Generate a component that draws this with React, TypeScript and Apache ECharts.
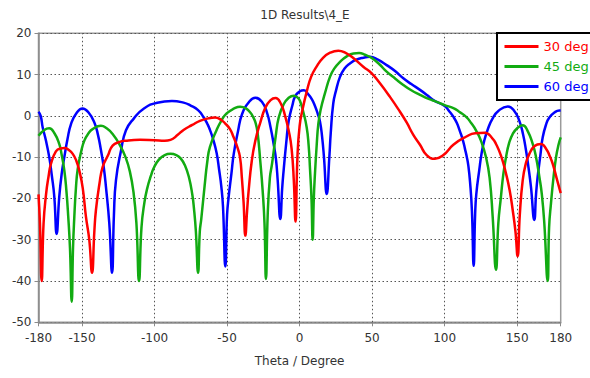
import React, { useEffect, useRef } from "react";
import * as echarts from "echarts";

const chartTitle = "1D Results\\4_E";
const xAxisName = "Theta / Degree";
const xTickValues = [-180, -150, -100, -50, 0, 50, 100, 150, 180];
const xGridValues = [-150, -100, -50, 0, 50, 100, 150];
const seriesNames = ["30 deg", "45 deg", "60 deg"];
const seriesColors = ["#ff0000", "#12ab12", "#0000ff"];

const deg30: [number, number][] = [
  [-180, -19], [-179, -26], [-177.8, -40], [-176.5, -26], [-174.8, -19], [-173, -14.5], [-171.4, -11.6],
  [-168, -8.6], [-165, -7.9], [-162, -7.8], [-159, -8.3], [-156.4, -9.2], [-154, -10.8], [-151.9, -13.2],
  [-149.5, -17.5], [-147.3, -24.4], [-145, -30], [-143.1, -38], [-141.5, -28], [-140.4, -22.8], [-138, -16.5],
  [-135.8, -12.4], [-132, -9.5], [-128.9, -7.2], [-124, -6.3], [-119.7, -6], [-110, -5.8], [-100, -5.9],
  [-93, -6], [-89, -5.8], [-84, -4.6], [-80, -3.4], [-74, -2.2], [-68.7, -1.2], [-63, -0.6], [-58.3, -0.4],
  [-54, -1], [-51.4, -1.8], [-48, -3.2], [-45.7, -5], [-43, -7.5], [-41.1, -10], [-39.8, -15], [-38.6, -21],
  [-37.4, -29], [-36.2, -23], [-35.1, -18], [-33, -11], [-30.5, -6], [-27, -1.5], [-23.6, 2], [-20, 3.8],
  [-16.6, 4.3], [-13, 3], [-10, 0], [-7.5, -3.6], [-5.5, -8], [-4, -15.6], [-2.8, -25.6], [-1.5, -10],
  [0, -2.5], [2, 1.5], [5, 6], [8, 9.5], [11.8, 12], [16, 14], [21, 15.3], [26.7, 15.8], [32, 15.2],
  [37, 14], [43.9, 11.9], [49.7, 10.3], [55.4, 7.9], [62.3, 4.6], [69.2, 1], [73.8, -1.6], [78.4, -4.6],
  [83, -7], [87.6, -9.5], [93.3, -10.4], [99.1, -9.5], [106, -7], [115, -5], [121, -4.2], [127.8, -4.1],
  [133, -5.5], [135.4, -6.8], [139, -9.8], [142.3, -14], [144.8, -18], [146.9, -22.8],
  [148.8, -28], [150.3, -34], [151.8, -24], [153.8, -15.6], [156, -11.5], [158.4, -9.2], [162, -7.3],
  [166.4, -6.8], [170, -8], [172.5, -9.8], [174.5, -11.6], [177.5, -15.5], [180, -18.7],
];

const deg45: [number, number][] = [
  [-180, -4.8], [-176, -3.4], [-172.6, -3], [-169, -4.2], [-165.7, -6.8], [-164, -9.5], [-162.2, -13.2],
  [-160.8, -18], [-159.5, -24.4], [-158.3, -32], [-157.1, -45], [-156.2, -32], [-155.3, -24.4],
  [-154.2, -17.5], [-153, -13], [-150.5, -8.5], [-148.4, -6], [-145.5, -4.2], [-142.7, -3.2], [-137, -2.4],
  [-133, -3], [-128.9, -4.4], [-124, -7], [-120, -10], [-117, -13.5], [-114.5, -18.5], [-112.5, -26],
  [-110.7, -40], [-109, -27], [-107, -21], [-105, -17.5], [-102.5, -14.5], [-100.4, -12.5], [-97, -10.6],
  [-93, -9.5], [-89, -9.2], [-85, -9.5], [-82, -10.3], [-79, -12], [-76.2, -15], [-74, -19], [-72.8, -22.5],
  [-71.5, -28], [-70, -38], [-68.8, -28], [-67.8, -25], [-65.5, -17], [-63.6, -11], [-61.8, -7.5],
  [-57.2, -3.4], [-54, -1.2], [-50.3, 0.6], [-45, 1.8], [-41, 2.2], [-37, 1.8], [-34, 0.8], [-32, -0.3],
  [-30.5, -1.5], [-29, -4], [-27.1, -11], [-25.5, -18], [-24.2, -26], [-23.2, -39.5], [-22, -24], [-20.5, -15],
  [-19, -11.6], [-16.5, -5], [-14.4, -0.4], [-11, 2.8], [-7.5, 4.4], [-4, 4.9], [-1, 4.3], [0.3, 3.6],
  [2.5, 1], [4.9, -2.8], [6.2, -7], [7.2, -13], [8.2, -20], [9, -30], [9.8, -20], [10.6, -14], [11.8, -7],
  [12.9, -2], [14.5, 1.5], [17.5, 5.5], [21, 9.5], [24, 11.5], [27.9, 13.1], [32.5, 14.4], [37.1, 15.1],
  [41, 15.2], [45, 14.8], [49.7, 14], [55, 12.5], [60, 10.7], [66, 9], [71.5, 7.5], [77, 6.2], [83, 5.1],
  [89, 4.1], [94.5, 3.4], [100, 2.6], [106, 1.9], [110, 1], [115, -0.3], [118.4, -1.8], [121.6, -3.5],
  [125, -6], [128.5, -10], [131, -15], [133.1, -24.4], [135.4, -37.3], [137, -26], [138.8, -19.6],
  [140.5, -14], [142.3, -10], [144.5, -6.5], [146.9, -4.4], [150, -3], [153.8, -2.3], [157, -3.5],
  [160.7, -6.8], [163, -10], [165.3, -14.8], [167, -19], [168.7, -26], [171, -40], [172, -27],
  [173.3, -21.2], [175, -15], [176.8, -10], [178.5, -7], [180, -5.2],
];

const deg60: [number, number][] = [
  [-180, 1], [-178.5, 0], [-177.1, -2.8], [-175, -5.8], [-172.6, -10], [-170.8, -14.5], [-169.1, -19.6],
  [-167.5, -28.6], [-165.7, -19.6], [-164, -14], [-162.2, -10], [-160, -5.6], [-157.6, -2], [-154, 0.6],
  [-149.6, 1.8], [-145.5, 0.8], [-141.5, -1.6], [-139, -4.6], [-136.9, -8.4], [-135, -12.5],
  [-133.5, -17.2], [-131.2, -26], [-129.3, -38], [-128, -24], [-126.6, -15.6], [-123.1, -8.4],
  [-119.7, -3.5], [-114.2, -0.6], [-107.3, 1.8], [-98.1, 3.2], [-88, 3.6], [-80, 3.2], [-75.1, 2.5],
  [-70, 1.4], [-66.4, -0.2], [-63.5, -2], [-61.8, -3.4], [-59.5, -5.8], [-57.2, -9], [-55.5, -13],
  [-54, -17], [-52.8, -22], [-51.2, -36.5], [-50, -24], [-48.9, -19.6], [-47, -14], [-45.4, -9.2],
  [-42.5, -3.8], [-39.7, 0.4], [-35, 3.3], [-30.5, 4.4], [-26, 3.4], [-22.5, 0.8], [-20, -2.8],
  [-17.9, -6.8], [-16.3, -10.5], [-15.1, -15.6], [-13.3, -25], [-12, -17.5], [-11, -13.2], [-9.2, -6.5],
  [-7.5, -1.2], [-5, 2.5], [-3, 4.8], [0, 5.9], [3, 6.2], [6, 5.2], [8.5, 4], [10.6, 2.4], [12.5, 0.5],
  [14.1, -1.5], [15.5, -5], [16.8, -10], [18.7, -18.9], [20.5, -10], [21.5, -4], [23.2, 3], [25, 6],
  [27.9, 9.5], [31, 11.5], [34.7, 12.7], [39, 13.6], [43.9, 14.1], [48.5, 14.3], [54, 13.6], [60, 12.3],
  [66, 10.8], [71.5, 9.1], [77, 7.7], [83, 6.3], [88, 5], [92.2, 3.8], [100, 2.4], [103, 1.2], [106, -0.2],
  [108.5, -1.8], [110.6, -3.8], [112.5, -5.8], [114, -8], [115.3, -10], [116.3, -12], [117.5, -16],
  [118.8, -23], [120, -36.3], [121, -24], [121.8, -19], [123.9, -13], [125.5, -9], [127.3, -6], [130, -3],
  [133.1, -0.6], [137, 1.2], [143.5, 2.3], [148, 1.2], [151.5, -1.2], [154, -4.4], [156.1, -8.4],
  [157.8, -12.5], [159.5, -17.2], [161.8, -25.2], [163, -19], [164.1, -14.8], [166, -9.5], [167.6, -5.2],
  [170, -2], [172.2, -0.4], [176, 0.9], [179, 1.3], [180, 1.3],
];

const seriesData = [deg30, deg45, deg60];

const FONT = "DejaVu Sans";

export default function App() {
  const ref = useRef<HTMLDivElement>(null);
  useEffect(() => {
    if (!ref.current) return;
    const chart = echarts.init(ref.current, null, { renderer: "svg" });
    const gridLineStyle = { color: "#555", width: 1, type: [1.5, 2.5] as any };
    chart.setOption({
      animation: false,
      backgroundColor: "#fff",
      title: {
        text: chartTitle,
        left: 300,
        top: 4,
        textAlign: "center",
        textStyle: { fontFamily: FONT, fontSize: 12, fontWeight: "normal", color: "#333" },
      },
      legend: {
        orient: "vertical",
        left: 497,
        top: 33,
        padding: [7, 3, 7, 6],
        itemGap: 7,
        itemWidth: 34,
        itemHeight: 14,
        borderColor: "#000",
        borderWidth: 2,
        backgroundColor: "#fff",
        itemStyle: { opacity: 0 },
        lineStyle: { width: 3 },
        data: seriesNames.map((n, i) => ({
          name: n,
          textStyle: { color: seriesColors[i], fontFamily: FONT, fontSize: 13 },
        })),
      },
      grid: {
        left: 38.5,
        right: 29.3,
        top: 33.3,
        bottom: 55.7,
        show: true,
        borderColor: "#9a9a9a",
        borderWidth: 1.5,
      },
      xAxis: {
        type: "value",
        min: -180,
        max: 180,
        name: xAxisName,
        nameLocation: "middle",
        nameGap: 33,
        nameTextStyle: { fontFamily: FONT, fontSize: 12, color: "#333" },
        axisLine: { show: true, onZero: false, lineStyle: { color: "#8a8a8a", width: 1.5 } },
        axisTick: { show: true, length: 4, customValues: xTickValues, lineStyle: { color: "#8a8a8a" } },
        axisLabel: {
          customValues: xTickValues,
          margin: 10,
          fontFamily: FONT,
          fontSize: 12,
          color: "#333",
        },
        splitLine: { show: false },
      },
      yAxis: {
        type: "value",
        min: -50,
        max: 20,
        interval: 10,
        axisLine: { show: true, onZero: false, lineStyle: { color: "#8a8a8a", width: 1.5 } },
        axisTick: { show: true, length: 4, lineStyle: { color: "#8a8a8a" } },
        axisLabel: { margin: 7, fontFamily: FONT, fontSize: 12, color: "#333" },
        splitLine: { show: true, lineStyle: gridLineStyle },
      },
      series: seriesNames.map((n, i) => ({
        name: n,
        type: "line",
        data: seriesData[i],
        showSymbol: false,
        symbol: "none",
        smooth: 0.5,
        clip: true,
        z: 3 + (2 - i),
        color: seriesColors[i],
        lineStyle: { color: seriesColors[i], width: 2.5 },
        markLine:
          i === 0
            ? {
                silent: true,
                symbol: "none",
                label: { show: false },
                lineStyle: gridLineStyle,
                z: 1,
                data: xGridValues.map((v) => ({ xAxis: v })),
              }
            : undefined,
      })),
    });
    return () => chart.dispose();
  }, []);
  return (
    <div
      ref={ref}
      style={{ position: "fixed", left: 0, top: 0, width: 590, height: 378 }}
    />
  );
}
